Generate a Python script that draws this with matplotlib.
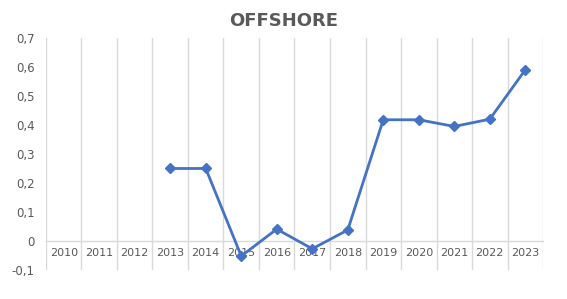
import matplotlib
matplotlib.use('Agg')
import matplotlib.pyplot as plt
from matplotlib.ticker import FuncFormatter, FixedLocator
import numpy as np

# category labels and values
years = ['2010', '2011', '2012', '2013', '2014', '2015', '2016',
         '2017', '2018', '2019', '2020', '2021', '2022', '2023']
values = [None, None, None, 0.25, 0.25, -0.052, 0.041,
          -0.027, 0.038, 0.418, 0.418, 0.395, 0.42, 0.59]
y_ticks = [-0.1, 0, 0.1, 0.2, 0.3, 0.4, 0.5, 0.6, 0.7]


def main():
    makePlot()


def makePlot():
    fig = plt.figure(figsize=(5.67, 2.99), dpi=100)
    ax = fig.add_axes([0.0811, 0.097, 0.8766, 0.776])

    x = np.arange(len(years))
    y = np.array([np.nan if v is None else v for v in values])
    ax.plot(x, y, color='#4472C4', linewidth=2, marker='D', markersize=5,
            zorder=3)

    ax.set_xlim(-0.5, len(years) - 0.5)
    ax.set_ylim(-0.1, 0.7)

    # vertical gridlines between categories
    ax.xaxis.set_minor_locator(FixedLocator(np.arange(-0.5, len(years), 1)))
    ax.grid(which='minor', axis='x', color='#d9d9d9', linewidth=1)
    ax.tick_params(which='minor', length=0)

    ax.set_xticks(x)
    ax.set_xticklabels(years)
    ax.set_yticks(y_ticks)
    ax.yaxis.set_major_formatter(
        FuncFormatter(lambda v, p: ('%g' % round(v, 1)).replace('.', ',')))
    ax.tick_params(axis='x', length=0, pad=5, labelsize=8, colors='#595959')
    ax.tick_params(axis='y', length=0, pad=8, labelsize=8.5, colors='#595959')

    for s in ['top', 'right', 'left']:
        ax.spines[s].set_visible(False)
    ax.spines['bottom'].set_position(('data', 0))
    ax.spines['bottom'].set_color('#d9d9d9')
    ax.spines['bottom'].set_linewidth(1)

    fig.text(0.5, 0.93, 'OFFSHORE', ha='center', va='center', fontsize=13,
             fontweight='bold', color='#595959')

    fig.savefig('out.png', dpi=100)


if __name__ == "__main__":
    main()
